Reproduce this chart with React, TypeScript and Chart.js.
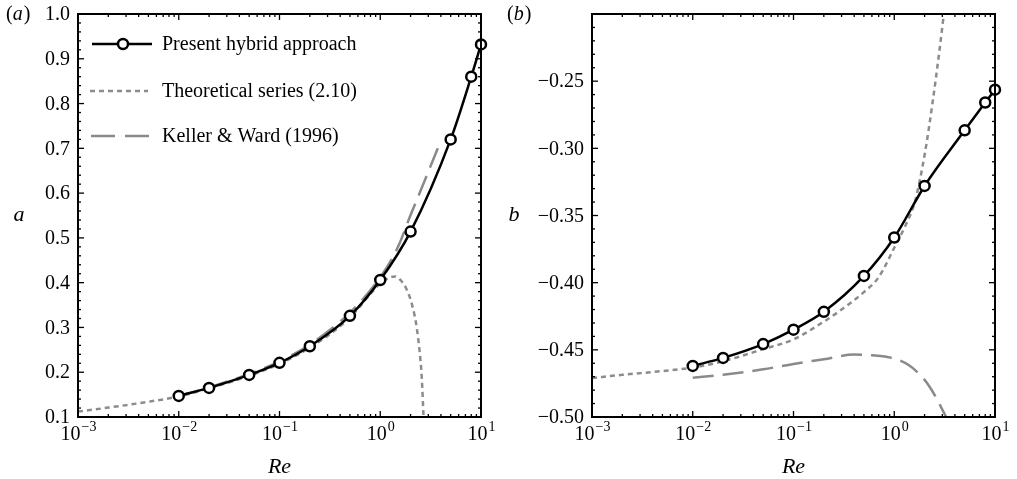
import React, { useEffect, useRef } from 'react';
import { Chart, registerables } from 'chart.js';
Chart.register(...registerables);

const SERIF = '"Liberation Serif", "DejaVu Serif", serif';

// ---- data ----
const reHybrid = [0.01, 0.02, 0.05, 0.1, 0.2, 0.5, 1, 2, 5, 8, 10];
const aHybrid = [0.147, 0.165, 0.194, 0.221, 0.258, 0.326, 0.406, 0.514, 0.72, 0.86, 0.932];
const bHybrid = [-0.462, -0.456, -0.4457, -0.435, -0.4217, -0.395, -0.3664, -0.328, -0.2866, -0.2659, -0.2563];

const reTheoryA = [0.001, 0.002, 0.005, 0.01, 0.02, 0.05, 0.1, 0.2, 0.5, 0.8, 1, 1.2, 1.4, 1.6, 1.8, 2.0, 2.2, 2.3, 2.45, 2.58, 2.69];
const aTheory = [0.112, 0.121, 0.134, 0.146, 0.164, 0.192, 0.219, 0.255, 0.322, 0.375, 0.398, 0.41, 0.414, 0.405, 0.388, 0.362, 0.325, 0.3, 0.25, 0.19, 0.1];

const reKellerA = [0.01, 0.02, 0.05, 0.1, 0.2, 0.5, 1, 1.5, 2, 2.5, 3, 3.5, 4];
const aKeller = [0.147, 0.166, 0.196, 0.224, 0.262, 0.333, 0.412, 0.48, 0.551, 0.604, 0.648, 0.685, 0.718];

const reTheoryB = [0.001, 0.002, 0.005, 0.01, 0.02, 0.05, 0.1, 0.2, 0.3, 0.5, 0.7, 1, 1.3, 1.6, 2, 2.4, 2.8, 3.2];
const bTheory = [-0.471, -0.4686, -0.4658, -0.4632, -0.4585, -0.4495, -0.4422, -0.429, -0.42, -0.407, -0.396, -0.374, -0.357, -0.34, -0.305, -0.266, -0.228, -0.192];

const reKellerB = [0.01, 0.02, 0.05, 0.1, 0.2, 0.4, 0.6, 1, 1.4, 1.8, 2.2, 2.6, 3, 3.3];
const bKeller = [-0.4708, -0.4685, -0.4645, -0.4605, -0.457, -0.4535, -0.454, -0.4565, -0.4615, -0.4685, -0.4765, -0.4855, -0.4945, -0.5005];

const xTickExps = [-3, -2, -1, 0, 1];
const yTicksA = [0.1, 0.2, 0.3, 0.4, 0.5, 0.6, 0.7, 0.8, 0.9, 1.0];
const yTicksB = [-0.5, -0.45, -0.4, -0.35, -0.3, -0.25];

const legendLabels = ['Present hybrid approach', 'Theoretical series (2.10)', 'Keller & Ward (1996)'];

const BLACK = '#000000';
const GREY_DOT = '#8c8c8c';
const GREY_DASH = '#8a8a8a';
const DOT = [5, 4];
const DASH = [21, 9];

const zip = (xs: number[], ys: number[]) => xs.map((x, i) => ({ x, y: ys[i] }));

type Panel = {
  key: string;
  letter: string;
  yMin: number;
  yMax: number;
  minorStep: number;
  minorCount: number;
  yTicks: number[];
  fmt: (v: number) => string;
  hybrid: number[];
  theoryX: number[];
  theory: number[];
  kellerX: number[];
  keller: number[];
  yAxisWidth: number;
  padRight: number;
  legend: boolean;
};

function line(ctx: CanvasRenderingContext2D, x1: number, y1: number, x2: number, y2: number) {
  ctx.beginPath();
  ctx.moveTo(x1, y1);
  ctx.lineTo(x2, y2);
  ctx.stroke();
}

function makePlugin(p: Panel) {
  return {
    id: 'decor' + p.key,
    afterDraw(chart: any) {
      const ctx: CanvasRenderingContext2D = chart.ctx;
      const { left, right, top, bottom } = chart.chartArea;
      const xs = chart.scales.x;
      const ys = chart.scales.y;
      ctx.save();
      // frame
      ctx.strokeStyle = BLACK;
      ctx.lineWidth = 2;
      ctx.strokeRect(left, top, right - left, bottom - top);
      // x ticks (all decades, inward top and bottom)
      ctx.lineWidth = 1.3;
      for (let e = -3; e <= 1; e++) {
        for (let m = 1; m <= 9; m++) {
          const v = m * Math.pow(10, e);
          if (v > 10.0001) break;
          const px = xs.getPixelForValue(v);
          const len = m === 1 ? 6 : 3;
          line(ctx, px, bottom, px, bottom - len);
          line(ctx, px, top, px, top + len);
        }
      }
      // y ticks
      for (let i = 0; i <= p.minorCount; i++) {
        const v = p.yMin + i * p.minorStep;
        const py = ys.getPixelForValue(v);
        const major = i % 5 === 0;
        const len = major ? 6 : 3;
        line(ctx, left, py, left + len, py);
        line(ctx, right, py, right - len, py);
      }
      // y tick labels
      ctx.fillStyle = BLACK;
      ctx.font = '20px ' + SERIF;
      ctx.textAlign = 'right';
      ctx.textBaseline = 'middle';
      for (const v of p.yTicks) {
        ctx.fillText(p.fmt(v), left - 8, ys.getPixelForValue(v) + 1);
      }
      // x tick labels 10^n
      ctx.textBaseline = 'alphabetic';
      ctx.textAlign = 'left';
      for (const e of xTickExps) {
        const px = xs.getPixelForValue(Math.pow(10, e));
        ctx.font = '20px ' + SERIF;
        const w1 = ctx.measureText('10').width;
        const sup = e < 0 ? '\u2212' + Math.abs(e) : String(e);
        ctx.font = '14px ' + SERIF;
        const w2 = ctx.measureText(sup).width;
        const x0 = px - (w1 + w2) / 2;
        ctx.font = '20px ' + SERIF;
        ctx.fillText('10', x0, 440);
        ctx.font = '14px ' + SERIF;
        ctx.fillText(sup, x0 + w1 + 1, 431);
      }
      // axis titles
      ctx.font = 'italic 22px ' + SERIF;
      ctx.textAlign = 'center';
      ctx.fillText('Re', (left + right) / 2, 473);
      ctx.textBaseline = 'middle';
      ctx.fillText(p.letter, p.key === 'a' ? 19 : 14, (top + bottom) / 2);
      // panel label (a)/(b)
      ctx.textAlign = 'left';
      ctx.font = '20px ' + SERIF;
      const px0 = p.key === 'a' ? 6 : 7;
      const py0 = 15;
      ctx.fillText('(', px0, py0);
      let cx = px0 + ctx.measureText('(').width;
      ctx.font = 'italic 20px ' + SERIF;
      ctx.fillText(p.letter, cx, py0);
      cx += ctx.measureText(p.letter).width + 1;
      ctx.font = '20px ' + SERIF;
      ctx.fillText(')', cx, py0);

      // legend
      if (p.legend) {
        const rows = [44, 91, 136];
        const x1 = 92;
        const x2 = 152;
        ctx.strokeStyle = BLACK;
        ctx.lineWidth = 2.5;
        ctx.setLineDash([]);
        line(ctx, x1, rows[0], x2, rows[0]);
        ctx.beginPath();
        ctx.arc(123, rows[0], 5, 0, Math.PI * 2);
        ctx.fillStyle = '#ffffff';
        ctx.fill();
        ctx.stroke();
        ctx.strokeStyle = GREY_DOT;
        ctx.lineWidth = 2.5;
        ctx.setLineDash(DOT);
        line(ctx, 90, rows[1], 148, rows[1]);
        ctx.strokeStyle = GREY_DASH;
        ctx.setLineDash([24, 10]);
        line(ctx, 91, rows[2], 149, rows[2]);
        ctx.setLineDash([]);
        ctx.fillStyle = BLACK;
        ctx.font = '20px ' + SERIF;
        ctx.textAlign = 'left';
        ctx.textBaseline = 'middle';
        legendLabels.forEach((t, i) => ctx.fillText(t, 162, rows[i] + 1));
      }
      ctx.restore();
    },
  };
}

function makeConfig(p: Panel): any {
  return {
    type: 'line',
    data: {
      datasets: [
        {
          label: legendLabels[0],
          data: zip(reHybrid, p.hybrid),
          borderColor: BLACK,
          borderWidth: 2.5,
          cubicInterpolationMode: 'monotone',
          pointRadius: 5,
          pointBorderWidth: 2.5,
          pointBackgroundColor: '#ffffff',
          pointBorderColor: BLACK,
          clip: 10,
        },
        {
          label: legendLabels[1],
          data: zip(p.theoryX, p.theory),
          borderColor: GREY_DOT,
          borderWidth: 2.5,
          borderDash: DOT,
          cubicInterpolationMode: 'monotone',
          pointRadius: 0,
          clip: 0,
        },
        {
          label: legendLabels[2],
          data: zip(p.kellerX, p.keller),
          borderColor: GREY_DASH,
          borderWidth: 2.5,
          borderDash: DASH,
          cubicInterpolationMode: 'monotone',
          pointRadius: 0,
          clip: 0,
        },
      ],
    },
    options: {
      responsive: false,
      animation: false,
      events: [],
      layout: { padding: { top: 14, right: p.padRight, left: 0, bottom: 0 } },
      plugins: { legend: { display: false }, tooltip: { enabled: false } },
      scales: {
        x: {
          type: 'logarithmic',
          min: 0.001,
          max: 10,
          ticks: { display: false },
          grid: { display: false },
          border: { display: false },
          afterFit: (s: any) => {
            s.height = 62;
          },
        },
        y: {
          type: 'linear',
          min: p.yMin,
          max: p.yMax,
          ticks: { display: false },
          grid: { display: false },
          border: { display: false },
          afterFit: (s: any) => {
            s.width = p.yAxisWidth;
          },
        },
      },
    },
    plugins: [makePlugin(p)],
  };
}

const panelA: Panel = {
  key: 'a',
  letter: 'a',
  yMin: 0.1,
  yMax: 1.0,
  minorStep: 0.02,
  minorCount: 45,
  yTicks: yTicksA,
  fmt: (v) => v.toFixed(1),
  hybrid: aHybrid,
  theoryX: reTheoryA,
  theory: aTheory,
  kellerX: reKellerA,
  keller: aKeller,
  yAxisWidth: 78,
  padRight: 19,
  legend: true,
};

const panelB: Panel = {
  key: 'b',
  letter: 'b',
  yMin: -0.5,
  yMax: -0.2,
  minorStep: 0.01,
  minorCount: 30,
  yTicks: yTicksB,
  fmt: (v) => '\u2212' + Math.abs(v).toFixed(2),
  hybrid: bHybrid,
  theoryX: reTheoryB,
  theory: bTheory,
  kellerX: reKellerB,
  keller: bKeller,
  yAxisWidth: 92,
  padRight: 22,
  legend: false,
};

function ChartCanvas({ panel, left, width }: { panel: Panel; left: number; width: number }) {
  const ref = useRef<HTMLCanvasElement | null>(null);
  useEffect(() => {
    if (!ref.current) return;
    const chart = new Chart(ref.current, makeConfig(panel));
    return () => chart.destroy();
  }, [panel]);
  return (
    <canvas
      ref={ref}
      width={width}
      height={479}
      style={{ position: 'absolute', left, top: 0, width, height: 479, display: 'block' }}
    />
  );
}

export default function App() {
  return (
    <div style={{ position: 'absolute', left: 0, top: 0, width: 1017, height: 479, background: '#fff' }}>
      <ChartCanvas panel={panelA} left={0} width={500} />
      <ChartCanvas panel={panelB} left={500} width={517} />
    </div>
  );
}
